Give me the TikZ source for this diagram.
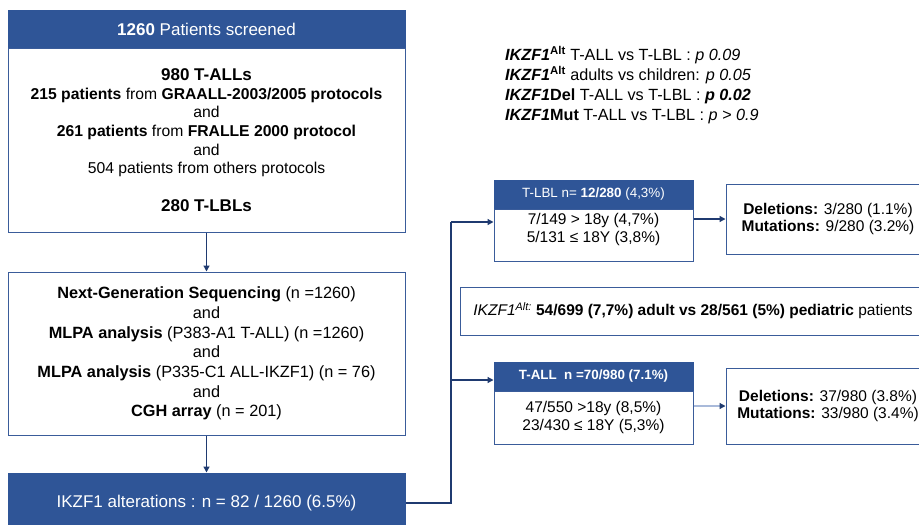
\documentclass[tikz,border=0pt]{standalone}
\usepackage{fontspec}
\setmainfont{Liberation Sans}
\usetikzlibrary{arrows.meta,calc}
\definecolor{hblue}{HTML}{2F5597}
\definecolor{bord}{HTML}{3A5C9A}
\definecolor{navy}{HTML}{1F3A70}
\definecolor{fadearrow}{HTML}{A9BADA}
\begin{document}
\begin{tikzpicture}[x=1pt,y=-1pt,
  hdr/.style={fill=hblue,draw=hblue,line width=1pt,text=white,inner sep=0pt,align=center},
  box/.style={draw=bord,line width=1pt,fill=white,inner sep=0pt,align=center},
  conn/.style={draw=navy,line width=1.3pt},
  arr/.style={conn,-{Triangle[length=6pt,width=6pt,color=navy]}},
  mid/.style={font=\fontsize{15.5}{17.8}\selectfont},
  small/.style={font=\fontsize{13.4}{15}\selectfont}]
\useasboundingbox (0,0) rectangle (919,525);
\clip (0,0) rectangle (919,525);
\fill[white] (0,0) rectangle (919,525);

% left column
\node[hdr, minimum width=397pt, minimum height=38pt, font=\fontsize{17}{20}\selectfont] (scr) at (206.5,29) {\textbf{1260} Patients screened};
\node[box, minimum width=397pt, minimum height=184pt, font=\fontsize{15.7}{18.7}\selectfont] (pop) at (206.5,140)
 {{\fontsize{17}{18.7}\selectfont\textbf{980 T-ALLs}}\\
  \textbf{215 patients} from \textbf{GRAALL-2003/2005 protocols}\\
  and\\
  \textbf{261 patients} from \textbf{FRALLE 2000 protocol}\\
  and\\
  504 patients from others protocols\\[18.7pt]
  {\fontsize{17}{18.7}\selectfont\textbf{280 T-LBLs}}};
\node[box, minimum width=397pt, minimum height=163pt, font=\fontsize{16.3}{19.7}\selectfont] (ngs) at (206.5,353.5)
 {\textbf{Next-Generation Sequencing} (n =1260)\\
  and\\
  \textbf{MLPA analysis} (P383-A1 T-ALL) (n =1260)\\
  and\\
  \textbf{MLPA analysis} (P335-C1 ALL-IKZF1) (n = 76)\\
  and\\
  \textbf{CGH array} (n = 201)};
\node[hdr, minimum width=397pt, minimum height=60pt, font=\fontsize{17}{20}\selectfont] (alt) at (206.5,503) {IKZF1 alterations : n = 82 / 1260 (6.5\%)};

\draw[arr] (pop.south) -- (ngs.north);
\draw[arr] (ngs.south) -- (alt.north);

% p-values
\node[anchor=north west, align=left, inner sep=0pt, font=\fontsize{16.2}{19.8}\selectfont] (pv) at (505,46)
 {\textbf{\textit{IKZF1}}\textsuperscript{\textbf{Alt}} T-ALL vs T-LBL : \textit{p 0.09}\\
  \textbf{\textit{IKZF1}}\textsuperscript{\textbf{Alt}} adults vs children: \textit{p 0.05}\\
  \textbf{\textit{IKZF1}Del} T-ALL vs T-LBL : \textbf{\textit{p 0.02}}\\
  \textbf{\textit{IKZF1}Mut} T-ALL vs T-LBL : \textit{p > 0.9}};

% T-LBL branch
\node[hdr, minimum width=199pt, minimum height=29pt, small] (lblh) at (593.5,194.5) {T-LBL n= \textbf{12/280} (4,3\%)};
\node[box, minimum width=199pt, minimum height=52pt, mid] (lblb) at (593.5,235) {7/149 > 18y (4,7\%)\\5/131 ≤ 18Y (3,8\%)\\[-3pt]};
\node[box, minimum width=204pt, minimum height=70pt, mid] (del1) at (828,219) {\textbf{Deletions:} 3/280 (1.1\%)\\\textbf{Mutations:} 9/280 (3.2\%)};

% summary box
\node[box, minimum width=466pt, minimum height=48pt, font=\fontsize{15.5}{18}\selectfont] (stat) at (693,311)
 {\textit{IKZF1}\textsuperscript{\textit{Alt:}} \textbf{54/699 (7,7\%) adult vs 28/561 (5\%) pediatric} patients};

% T-ALL branch
\node[hdr, minimum width=199pt, minimum height=29pt, small] (allh) at (593.5,376.5) {\textbf{T-ALL\ \ n =70/980 (7.1\%)}};
\node[box, minimum width=199pt, minimum height=53pt, mid] (allb) at (593.5,417.5) {47/550 >18y (8,5\%)\\23/430 ≤ 18Y (5,3\%)};
\node[box, minimum width=204pt, minimum height=76pt, mid] (del2) at (828,406) {\textbf{Deletions:} 37/980 (3.8\%)\\\textbf{Mutations:} 33/980 (3.4\%)};

% connectors
\coordinate (jt) at (451,222);
\coordinate (jm) at (451,380);
\draw[conn] (alt.east) -- (alt.east -| jt) -- (jt);
\draw[arr] (jt) -- (jt -| lblb.west);
\draw[arr] (jm) -- (jm -| allh.west);
\draw[arr] (del1.west -| lblb.east) -- (del1.west);
\draw[arr, draw=fadearrow] (del2.west -| allb.east) -- (del2.west);
\end{tikzpicture}
\end{document}
